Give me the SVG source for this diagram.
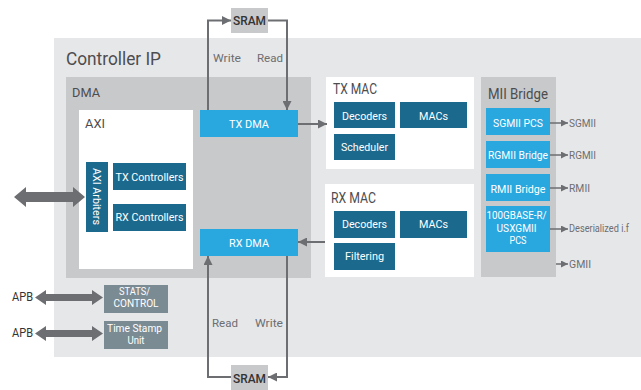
<svg xmlns="http://www.w3.org/2000/svg" width="641" height="390" viewBox="0 0 641 390">
  <style>
    text { font-family: Roboto, "Open Sans", "Liberation Sans", sans-serif; }
    .container { fill: #e6e7e9; }
    .panel { fill: #c8c9cb; }
    .white { fill: #ffffff; }
    .light { fill: #29a8e0; }
    .dark { fill: #1b6a8e; }
    .muted { fill: #7b8b93; }
    .mem { fill: #c8c9cb; }
    .title { fill: #4d4d4f; }
    .blk { fill: #ffffff; font-size: 11.5px; text-anchor: middle; }
    .lbl { fill: #6d6e71; font-size: 11.5px; }
    .wire { fill: none; stroke: #6d6e71; stroke-width: 2; }
    .thin { fill: none; stroke: #6d6e71; stroke-width: 1.5; }
    .fat { fill: #6d6e71; }
  </style>
  <defs>
    <marker id="head" viewBox="0 0 10 10" refX="10" refY="5" markerWidth="9" markerHeight="9" markerUnits="userSpaceOnUse" orient="auto">
      <path d="M0,0 L10,5 L0,10 Z" fill="#6d6e71"/>
    </marker>
    <marker id="tip" viewBox="0 0 10 10" refX="10" refY="5" markerWidth="7" markerHeight="7" markerUnits="userSpaceOnUse" orient="auto">
      <path d="M0,0 L10,5 L0,10 Z" fill="#6d6e71"/>
    </marker>
  </defs>

  <!-- outer controller block -->
  <g id="controller-ip">
    <rect class="container" x="54" y="38" width="587" height="319"/>
    <text class="title" x="66" y="65" font-size="18.5" textLength="95" lengthAdjust="spacingAndGlyphs">Controller IP</text>
  </g>

  <g id="dma">
    <rect class="panel" x="66" y="77" width="245" height="201"/>
    <text class="title" x="72" y="97" font-size="13.5" textLength="28" lengthAdjust="spacingAndGlyphs">DMA</text>
  </g>

  <g id="axi">
    <rect class="white" x="79" y="110" width="114" height="159"/>
    <text class="title" x="85" y="128" font-size="13.5" textLength="20" lengthAdjust="spacingAndGlyphs">AXI</text>
  </g>

  <g id="axi-arbiters">
    <rect class="dark" x="86" y="162" width="22" height="70"/>
    <text class="blk" transform="translate(93,196.5) rotate(90)" x="0" y="0" textLength="57" lengthAdjust="spacingAndGlyphs">AXI Arbiters</text>
  </g>

  <g id="tx-controllers">
    <rect class="dark" x="113" y="163" width="73" height="27"/>
    <text class="blk" x="149.5" y="181" textLength="68" lengthAdjust="spacingAndGlyphs">TX Controllers</text>
  </g>

  <g id="rx-controllers">
    <rect class="dark" x="113" y="204" width="73" height="27"/>
    <text class="blk" x="149.5" y="221" textLength="68" lengthAdjust="spacingAndGlyphs">RX Controllers</text>
  </g>

  <g id="tx-dma">
    <rect class="light" x="200" y="110" width="98" height="27"/>
    <text class="blk" x="249" y="128" textLength="40" lengthAdjust="spacingAndGlyphs">TX DMA</text>
  </g>

  <g id="rx-dma">
    <rect class="light" x="200" y="229" width="98" height="27"/>
    <text class="blk" x="249" y="247" textLength="40" lengthAdjust="spacingAndGlyphs">RX DMA</text>
  </g>

  <g id="sram-tx">
    <rect class="mem" x="231" y="8" width="37" height="25"/>
    <text x="249.5" y="25" font-size="12" fill="#333333" text-anchor="middle" font-weight="500" textLength="33" lengthAdjust="spacingAndGlyphs">SRAM</text>
  </g>

  <g id="sram-rx">
    <rect class="mem" x="231" y="365" width="37" height="25"/>
    <text x="249.5" y="383" font-size="12" fill="#333333" text-anchor="middle" font-weight="500" textLength="33" lengthAdjust="spacingAndGlyphs">SRAM</text>
  </g>

  <g id="tx-mac">
    <rect class="white" x="326" y="77" width="148" height="92"/>
    <text class="title" x="333" y="94" font-size="14" textLength="44" lengthAdjust="spacingAndGlyphs">TX MAC</text>
    <rect class="dark" x="334" y="102" width="61" height="26"/>
    <text class="blk" x="364.5" y="120" textLength="45" lengthAdjust="spacingAndGlyphs">Decoders</text>
    <rect class="dark" x="400" y="102" width="67" height="26"/>
    <text class="blk" x="433.5" y="120" textLength="29" lengthAdjust="spacingAndGlyphs">MACs</text>
    <rect class="dark" x="334" y="134" width="61" height="26"/>
    <text class="blk" x="364.5" y="151" textLength="47" lengthAdjust="spacingAndGlyphs">Scheduler</text>
  </g>

  <g id="rx-mac">
    <rect class="white" x="325" y="184" width="149" height="93"/>
    <text class="title" x="331" y="203" font-size="14" textLength="45" lengthAdjust="spacingAndGlyphs">RX MAC</text>
    <rect class="dark" x="334" y="211" width="61" height="27"/>
    <text class="blk" x="364.5" y="228" textLength="45" lengthAdjust="spacingAndGlyphs">Decoders</text>
    <rect class="dark" x="400" y="211" width="67" height="27"/>
    <text class="blk" x="433.5" y="228" textLength="29" lengthAdjust="spacingAndGlyphs">MACs</text>
    <rect class="dark" x="334" y="243" width="61" height="27"/>
    <text class="blk" x="364.5" y="260" textLength="39" lengthAdjust="spacingAndGlyphs">Filtering</text>
  </g>

  <g id="mii-bridge">
    <rect class="panel" x="481" y="77" width="75" height="200"/>
    <text class="title" x="488" y="99" font-size="14" textLength="60" lengthAdjust="spacingAndGlyphs">MII Bridge</text>
  </g>

  <g id="sgmii-pcs">
    <rect class="light" x="486" y="108" width="64" height="27"/>
    <text class="blk" x="518" y="127" textLength="50" lengthAdjust="spacingAndGlyphs">SGMII PCS</text>
  </g>

  <g id="rgmii-bridge">
    <rect class="light" x="486" y="141" width="64" height="27"/>
    <text class="blk" x="518" y="159" textLength="60" lengthAdjust="spacingAndGlyphs">RGMII Bridge</text>
  </g>

  <g id="rmii-bridge">
    <rect class="light" x="486" y="174" width="64" height="27"/>
    <text class="blk" x="518" y="193" textLength="55" lengthAdjust="spacingAndGlyphs">RMII Bridge</text>
  </g>

  <g id="pcs-100g">
    <rect class="light" x="486" y="206" width="64" height="46"/>
    <text class="blk" font-size="10.5">
      <tspan x="518" y="219" textLength="60" lengthAdjust="spacingAndGlyphs">100GBASE-R/</tspan>
      <tspan x="518" y="231.5" textLength="40" lengthAdjust="spacingAndGlyphs">USXGMII</tspan>
      <tspan x="518" y="244" textLength="17" lengthAdjust="spacingAndGlyphs">PCS</tspan>
    </text>
  </g>

  <g id="stats-control">
    <rect class="muted" x="104" y="285" width="64" height="28"/>
    <text class="blk" font-size="10.5">
      <tspan x="136" y="295" textLength="31" lengthAdjust="spacingAndGlyphs">STATS/</tspan>
      <tspan x="136" y="307" textLength="45" lengthAdjust="spacingAndGlyphs">CONTROL</tspan>
    </text>
  </g>

  <g id="time-stamp-unit">
    <rect class="muted" x="104" y="321" width="64" height="28"/>
    <text class="blk" font-size="10.5">
      <tspan x="136" y="332" textLength="55" lengthAdjust="spacingAndGlyphs">Time Stamp</tspan>
      <tspan x="136" y="344" textLength="17" lengthAdjust="spacingAndGlyphs">Unit</tspan>
    </text>
  </g>

  <!-- external interface labels -->
  <g id="labels">
    <text class="lbl" x="213" y="62" textLength="28" lengthAdjust="spacingAndGlyphs">Write</text>
    <text class="lbl" x="257" y="62" textLength="26" lengthAdjust="spacingAndGlyphs">Read</text>
    <text class="lbl" x="212" y="327" textLength="26" lengthAdjust="spacingAndGlyphs">Read</text>
    <text class="lbl" x="255" y="327" textLength="28" lengthAdjust="spacingAndGlyphs">Write</text>
    <text class="lbl" x="569" y="127" font-size="11" textLength="27" lengthAdjust="spacingAndGlyphs">SGMII</text>
    <text class="lbl" x="569" y="159" font-size="11" textLength="27" lengthAdjust="spacingAndGlyphs">RGMII</text>
    <text class="lbl" x="569" y="192" font-size="11" textLength="21" lengthAdjust="spacingAndGlyphs">RMII</text>
    <text class="lbl" x="569" y="232" font-size="10.5" textLength="60" lengthAdjust="spacingAndGlyphs">Deserialized i.f</text>
    <text class="lbl" x="569" y="268" font-size="11" textLength="22" lengthAdjust="spacingAndGlyphs">GMII</text>
    <text x="12" y="301" font-size="12" fill="#333333" textLength="21" lengthAdjust="spacingAndGlyphs">APB</text>
    <text x="12" y="337" font-size="12" fill="#333333" textLength="21" lengthAdjust="spacingAndGlyphs">APB</text>
  </g>

  <g id="connectors">
    <!-- TX DMA write/read to SRAM -->
    <path class="wire" d="M208,110 V20.5 H231" marker-end="url(#head)"/>
    <path class="wire" d="M268,20.5 H287 V110" marker-end="url(#head)"/>
    <!-- RX DMA read/write with SRAM -->
    <path class="wire" d="M231,377 H208 V256" marker-end="url(#head)"/>
    <path class="wire" d="M287,256 V377 H268" marker-end="url(#head)"/>
    <!-- DMA to/from MACs -->
    <path class="wire" d="M298,124 H327" marker-end="url(#head)"/>
    <path class="wire" d="M325,242 H298" marker-end="url(#head)"/>
    <!-- MII outputs -->
    <path class="thin" d="M550,123 H568" marker-end="url(#tip)"/>
    <path class="thin" d="M550,155 H568" marker-end="url(#tip)"/>
    <path class="thin" d="M550,188 H568" marker-end="url(#tip)"/>
    <path class="thin" d="M550,229 H568" marker-end="url(#tip)"/>
    <path class="thin" d="M556,264 H568" marker-end="url(#tip)"/>
    <!-- bidirectional bus arrows -->
    <polygon class="fat" points="14,197 26,187 26,192 73,192 73,187 85,197 73,207 73,202 26,202 26,207"/>
    <polygon class="fat" points="35,297.5 46,290 46,294 92,294 92,290 103,297.5 92,305 92,301 46,301 46,305"/>
    <polygon class="fat" points="35,333.5 46,326 46,330 92,330 92,326 103,333.5 92,341 92,337 46,337 46,341"/>
  </g>
</svg>
